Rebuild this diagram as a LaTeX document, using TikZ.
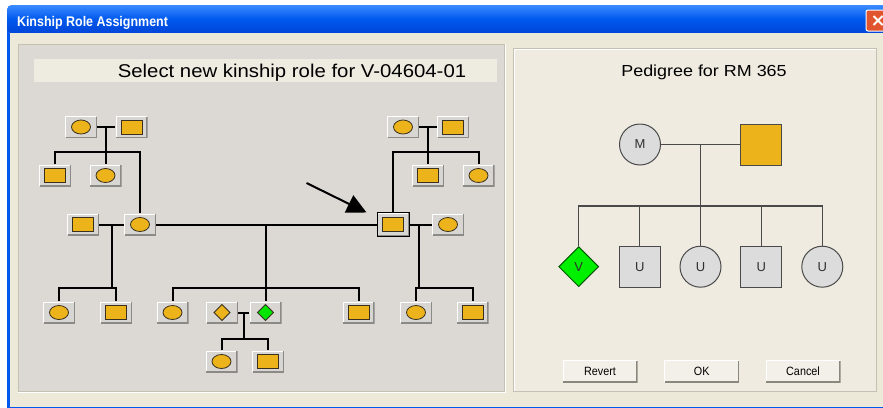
\documentclass[tikz,border=0pt]{standalone}
\usepackage{fontspec}
\setmainfont{Liberation Sans}
\usetikzlibrary{shapes.geometric,arrows.meta}

\definecolor{xpblue}{HTML}{0058EE}
\definecolor{xptop}{HTML}{3A8CFF}
\definecolor{xpbot}{HTML}{0046D8}
\definecolor{body}{HTML}{ECE9D8}
\definecolor{panelgray}{HTML}{DCD9D5}
\definecolor{panelrim}{HTML}{C4C0B4}
\definecolor{strip}{HTML}{EEEBE1}
\definecolor{rpanel}{HTML}{EFEBE1}
\definecolor{tileface}{HTML}{D8D6D2}
\definecolor{tileshade}{HTML}{8C8A86}
\definecolor{gold}{HTML}{ECB41A}
\definecolor{symline}{HTML}{3A3020}
\definecolor{tgreen}{HTML}{00E600}
\definecolor{vgreen}{HTML}{00F000}
\definecolor{pedgray}{HTML}{DCDCDC}
\definecolor{pedline}{HTML}{4A4A4A}
\definecolor{pedtext}{HTML}{303030}
\definecolor{btnface}{HTML}{F2F0E8}
\definecolor{btnshade}{HTML}{8A877C}
\definecolor{closered}{HTML}{E0552E}

% raised edge: light on the left and top, dark on the bottom and right
\newcommand\tilebevel[2]{%
  \draw[#1, line width=1.2pt]
    ([shift={(0.6pt,0.6pt)}]path picture bounding box.south west) |-
    ([shift={(-0.6pt,-0.6pt)}]path picture bounding box.north east);
  \draw[#2, line width=1.2pt]
    ([shift={(0.6pt,0.6pt)}]path picture bounding box.south west) -|
    ([shift={(-0.6pt,-0.6pt)}]path picture bounding box.north east);
}

\tikzset{
  tile/.style={rectangle, inner sep=0pt, minimum width=32pt, minimum height=22pt, fill=tileface},
  ftile/.style={tile, path picture={\tilebevel{white}{tileshade}
      \draw[symline, fill=gold, line width=0.8pt] (path picture bounding box.center)
        ellipse [x radius=9.5pt, y radius=7pt];}},
  mtile/.style={tile, path picture={\tilebevel{white}{tileshade}
      \draw[symline, fill=gold, line width=0.9pt]
        ([shift={(-10.5pt,-7pt)}]path picture bounding box.center) rectangle
        ([shift={(10.5pt,7pt)}]path picture bounding box.center);}},
  dtile/.style={tile, path picture={\tilebevel{white}{tileshade}
      \draw[symline, fill=#1, line width=0.8pt]
        ([xshift=-8pt]path picture bounding box.center) --
        ([yshift=8pt]path picture bounding box.center) --
        ([xshift=8pt]path picture bounding box.center) --
        ([yshift=-8pt]path picture bounding box.center) -- cycle;}},
  chosen/.style={draw=black, line width=1pt, minimum height=24pt},
  conn/.style={draw=black, line width=2pt},
  pedsym/.style={inner sep=0pt, draw=pedline, line width=1pt, fill=pedgray,
    text=pedtext, font=\fontsize{13}{15}\selectfont},
  pfem/.style={pedsym, circle, minimum size=41pt},
  pmale/.style={pedsym, rectangle, minimum size=41pt},
  punk/.style={pedsym, diamond, aspect=1, minimum width=40pt, minimum height=40pt,
    fill=vgreen, draw=green!35!black},
  pconn/.style={draw=pedline, line width=1.2pt},
  btn/.style={rectangle, inner sep=0pt, minimum width=75pt, minimum height=22.5pt,
    fill=btnface, font=\fontsize{12}{14}\selectfont,
    path picture={\tilebevel{white}{btnshade}}},
}

\begin{document}
\begin{tikzpicture}[x=1pt, y=-1pt]
\useasboundingbox (0,0) rectangle (883,407);
\fill[white] (0,0) rectangle (883,407);

% window frame and title bar
\fill[xpblue, rounded corners=5pt] (7,5) rectangle (900,420);
\path[rounded corners=5pt, top color=xptop, bottom color=xpbot, middle color=xpblue]
  (7,5) rectangle (900,33);
\fill[body] (10,33) rectangle (883,407);
\node[anchor=base west, text=white, font=\bfseries\fontsize{14}{16}\selectfont]
  (title) at (13.5,26.5) {\scalebox{0.89}[1]{Kinship Role Assignment}};
\node[rectangle, rounded corners=2pt, draw=white, line width=1pt, fill=closered,
  minimum width=24pt, minimum height=21pt, inner sep=0pt,
  path picture={\draw[white, line width=2pt]
    ([shift={(-4.5pt,-4.5pt)}]path picture bounding box.center) --
    ([shift={(4.5pt,4.5pt)}]path picture bounding box.center)
    ([shift={(-4.5pt,4.5pt)}]path picture bounding box.center) --
    ([shift={(4.5pt,-4.5pt)}]path picture bounding box.center);}]
  (close) at (878,20.5) {};

% left panel: kinship chart
\draw[panelrim, fill=panelgray] (18.5,44.5) rectangle (504.5,391.5);
\draw[white] (17.5,392.5) -- (505.5,392.5) -- (505.5,43.5);
\fill[strip] (34,59) rectangle (497,82);
\node[anchor=base, font=\fontsize{18.5}{20}\selectfont] (heading) at (292,77)
  {\scalebox{1.1}[1]{Select new kinship role for V-04604-01}};

% right panel: pedigree
\draw[panelrim, fill=rpanel] (513.5,48.5) rectangle (876.5,391.5);
\draw[white] (514.5,390.5) -- (514.5,49.5) -- (875.5,49.5);
\node[anchor=base, font=\fontsize{16}{18}\selectfont] (pedtitle) at (704,76)
  {\scalebox{1.12}[1]{Pedigree for RM 365}};

% kinship tiles
\node[ftile] (A1) at (81,127) {};
\node[mtile] (A2) at (131.5,127) {};
\node[mtile] (B1) at (55,175.5) {};
\node[ftile] (B2) at (105.5,175.5) {};
\node[mtile] (C1) at (83,224.5) {};
\node[ftile] (C2) at (140,224.5) {};
\node[ftile] (D1) at (59,312.5) {};
\node[mtile] (D2) at (116,312.5) {};
\node[ftile] (E1) at (172.5,312.5) {};
\node[dtile=gold] (E2) at (222,312.5) {};
\node[dtile=tgreen] (E3) at (265.5,312.5) {};
\node[mtile] (E4) at (358.5,312.5) {};
\node[ftile] (F1) at (221.5,361.5) {};
\node[mtile] (F2) at (268,361.5) {};
\node[ftile] (H1) at (403,127) {};
\node[mtile] (H2) at (453,127) {};
\node[mtile] (I1) at (428,175.5) {};
\node[ftile] (I2) at (478.5,175.5) {};
\node[mtile, chosen] (V) at (393,224.5) {};
\node[ftile] (J) at (448,224.5) {};
\node[ftile] (G1) at (416,312.5) {};
\node[mtile] (G2) at (472.5,312.5) {};

% kinship connectors
\coordinate (kA) at (105.5,127);  \coordinate (sA) at (105.5,152);
\coordinate (kC) at (112,224.5);  \coordinate (sC) at (112,287.5);
\coordinate (kM) at (265.5,224.5); \coordinate (sM) at (265.5,288);
\coordinate (kE) at (243.5,312.5); \coordinate (sE) at (243.5,339);
\coordinate (kH) at (428,127);    \coordinate (sH) at (428,152);
\coordinate (kV) at (419,224.5);  \coordinate (sV) at (419,288);

\draw[conn] (A1) -- (A2);
\draw[conn] (kA) -- (B2.north);
\draw[conn] (B1.north) |- (sA) -| (C2.north);
\draw[conn] (C1) -- (C2);
\draw[conn] (kC) -- (sC);
\draw[conn] (D1.north) |- (sC) -| (D2.north);
\draw[conn] (C2) -- (V);
\draw[conn] (kM) -- (E3.north);
\draw[conn] (E1.north) |- (sM) -| (E4.north);
\draw[conn] (E2) -- (E3);
\draw[conn] (kE) -- (sE);
\draw[conn] (F1.north) |- (sE) -| (F2.north);
\draw[conn] (H1) -- (H2);
\draw[conn] (kH) -- (I1.north);
\draw[conn] (V.north) |- (sH) -| (I2.north);
\draw[conn] (V) -- (J);
\draw[conn] (kV) -- (sV);
\draw[conn] (G1.north) |- (sV) -| (G2.north);

% pointer to the selected tile
\coordinate (ptr) at (306.5,183);
\draw[conn, -{Triangle[length=19.5pt, width=19pt]}] (ptr) -- ([shift={(-10pt,-0.5pt)}]V.north west);

% pedigree symbols
\node[pfem] (M) at (640,144.5) {M};
\node[pmale, fill=gold] (P) at (761.3,144.5) {};
\node[punk] (Vd) at (578.7,266.7) {V};
\node[pmale] (Ua) at (639.7,266.7) {U};
\node[pfem] (Ub) at (700.5,266.7) {U};
\node[pmale] (Uc) at (761.3,266.7) {U};
\node[pfem] (Ud) at (822.3,266.7) {U};

\coordinate (kP) at (700.5,144.5); \coordinate (sP) at (700.5,206);
\draw[pconn] (M) -- (P);
\draw[pconn] (kP) -- (Ub.north);
\draw[pconn] (Vd.north) |- (sP) -| (Ud.north);
\draw[pconn] (Ua.north) -- (Ua.north |- sP);
\draw[pconn] (Uc.north) -- (Uc.north |- sP);

% dialog buttons
\node[btn] (revert) at (600,371.3) {\scalebox{0.9}[1]{Revert}};
\node[btn] (ok) at (701.7,371.3) {\scalebox{0.9}[1]{OK}};
\node[btn] (cancel) at (803,371.3) {\scalebox{0.9}[1]{Cancel}};
\end{tikzpicture}
\end{document}
